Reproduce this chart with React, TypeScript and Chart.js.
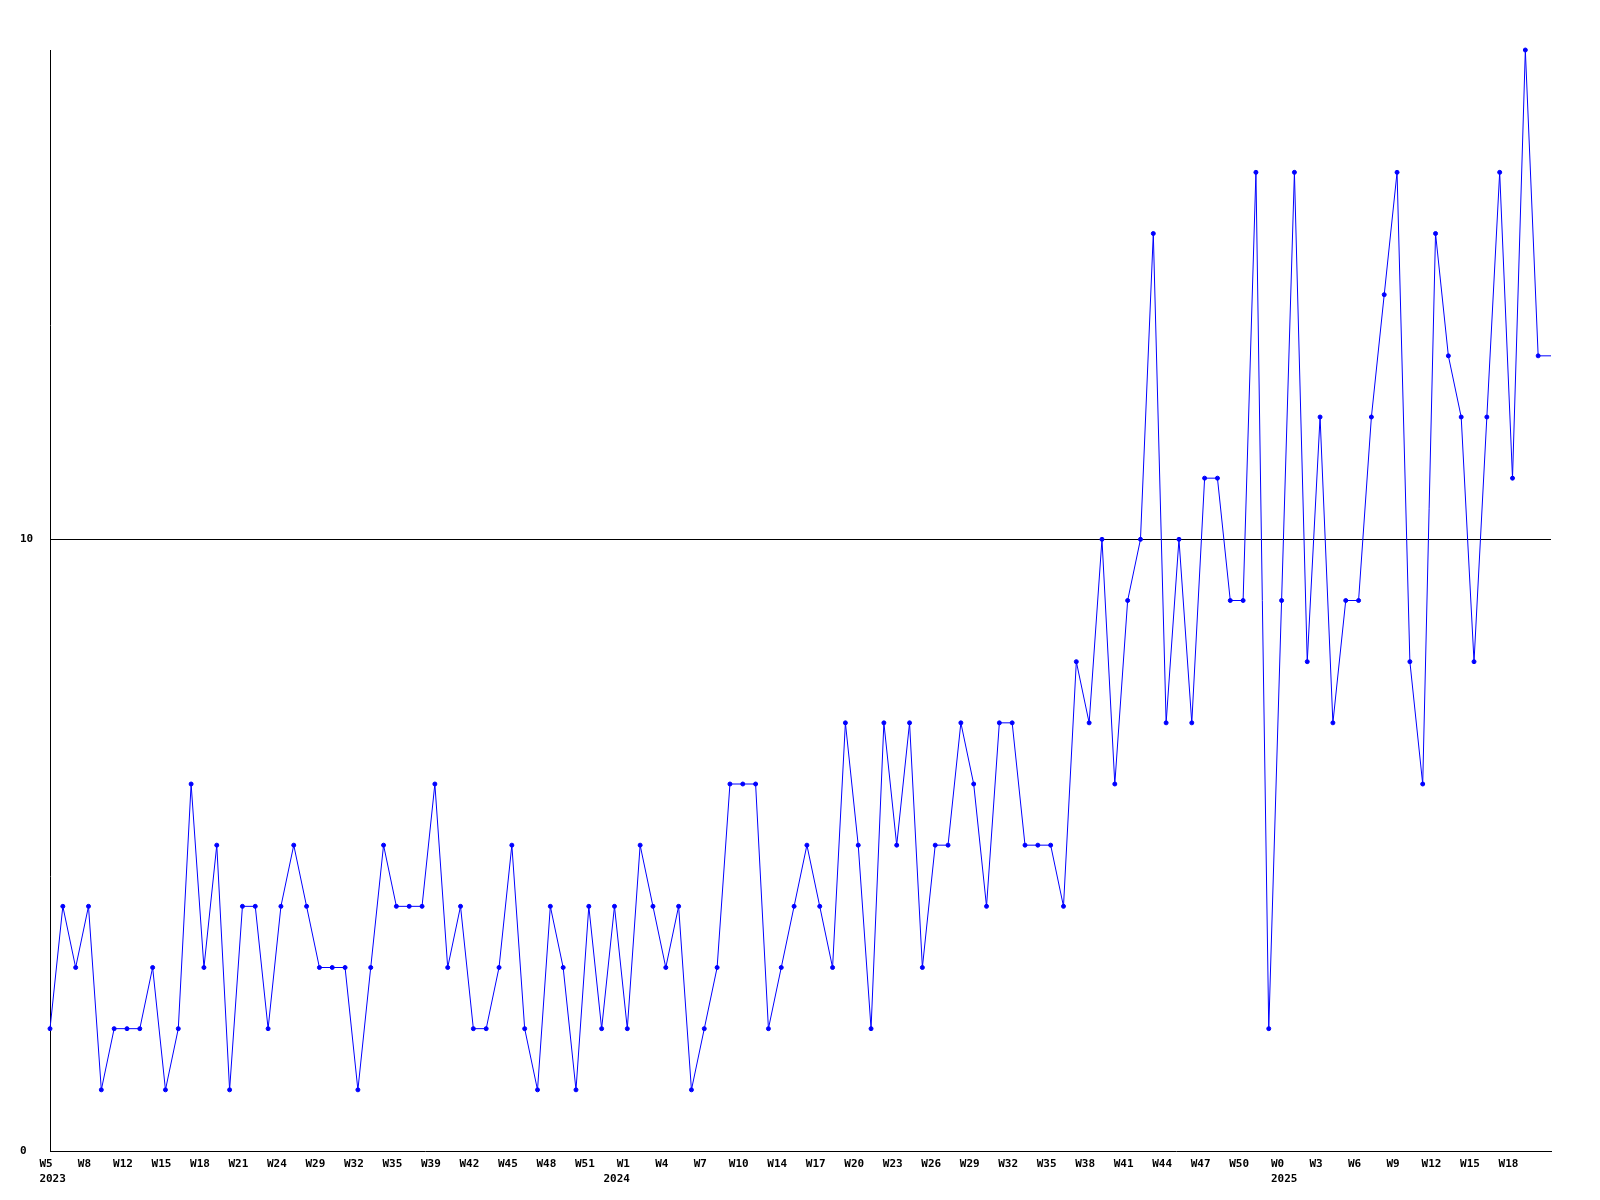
import React, { useEffect, useRef } from "react";
import { Chart, registerables } from "chart.js";

Chart.register(...registerables);

// Category labels (week numbers) per year
const weeks2023 = [
  "W5", "W6", "W7", "W8", "W9", "W10",
  "W12", "W13", "W14", "W15", "W16", "W17", "W18", "W19", "W20", "W21", "W22", "W23",
  "W24", "W26", "W28",
  "W29", "W30", "W31", "W32", "W33", "W34", "W35", "W36", "W38",
  "W39", "W40", "W41", "W42", "W43", "W44", "W45", "W46", "W47", "W48", "W49", "W50", "W51", "W52",
  "W53",
];
const weeks2024 = [
  "W1", "W2", "W3", "W4", "W5", "W6", "W7", "W8", "W9", "W10", "W11", "W12",
  "W14", "W15", "W16", "W17", "W18", "W19", "W20", "W21", "W22", "W23", "W24", "W25", "W26",
  "W27", "W28", "W29", "W30", "W31", "W32", "W33", "W34", "W35", "W36", "W37", "W38", "W39",
  "W40", "W41", "W42", "W43", "W44", "W45", "W46", "W47", "W48", "W49", "W50", "W51", "W52",
];
const weeks2025 = [
  "W0", "W1", "W2", "W3", "W4", "W5", "W6", "W7", "W8", "W9", "W10",
  "W11", "W12", "W13", "W14", "W15", "W16", "W17", "W18", "W19", "W20", "W21",
];

// Series values per year
const values2023 = [
  2, 4, 3, 4, 1, 2, 2, 2, 3, 1,
  2, 6, 3, 5, 1, 4, 4, 2, 4, 5,
  4, 3, 3, 3, 1, 3, 5, 4, 4, 4,
  6, 3, 4, 2, 2, 3, 5, 2, 1, 4,
  3, 1, 4, 2, 4,
];
const values2024 = [
  2, 5, 4, 3, 4, 1, 2, 3, 6, 6,
  6, 2, 3, 4, 5, 4, 3, 7, 5, 2,
  7, 5, 7, 3, 5, 5, 7, 6, 4, 7,
  7, 5, 5, 5, 4, 8, 7, 10, 6, 9,
  10, 15, 7, 10, 7, 11, 11, 9, 9, 16,
  2,
];
const values2025 = [
  9, 16, 8, 12, 7, 9, 9, 12, 14, 16,
  8, 6, 15, 13, 12, 8, 12, 16, 11, 18,
  13, 13,
];

// Year tick labels (second line), with spacing to mimic their alignment
const years = ["  2023", "2024  ", "  2025"];
const yTicks = [0, 10];
const yMax = 18;

const labels = [...weeks2023, ...weeks2024, ...weeks2025];
const values = [...values2023, ...values2024, ...values2025];
const yearStarts: Record<number, string> = {
  0: years[0],
  [weeks2023.length]: years[1],
  [weeks2023.length + weeks2024.length]: years[2],
};

const FONT = { family: "'DejaVu Sans Mono', 'Liberation Mono', monospace", size: 11, weight: "bold" as const, lineHeight: 1.4 };

export default function App() {
  const ref = useRef<HTMLCanvasElement | null>(null);

  useEffect(() => {
    if (!ref.current) return;
    const last = labels.length - 1;
    const chart = new Chart(ref.current, {
      type: "line",
      data: {
        labels,
        datasets: [
          {
            data: values,
            borderColor: "#0000ff",
            backgroundColor: "#0000ff",
            borderWidth: 1,
            tension: 0,
            pointRadius: (c: any) => (c.dataIndex === last ? 0 : 2),
            pointBorderWidth: 1,
            pointBorderColor: "#0000ff",
            pointBackgroundColor: "#0000ff",
            pointStyle: "circle",
            clip: 6,
          } as any,
        ],
      },
      options: {
        responsive: false,
        animation: false,
        events: [],
        layout: { padding: { left: 12, top: 42, right: 41, bottom: 0 } },
        plugins: { legend: { display: false }, tooltip: { enabled: false }, title: { display: false } },
        scales: {
          x: {
            type: "category",
            offset: false,
            grid: { display: false, drawTicks: false },
            border: { display: true, color: "#000", width: 1 },
            afterFit: (s: any) => {
              s.height = 41;
            },
            ticks: {
              autoSkip: false,
              maxRotation: 0,
              minRotation: 0,
              padding: 5,
              labelOffset: -4,
              color: "#000",
              font: FONT,
              callback: (_v: any, index: number) => {
                if (index % 3 !== 0 || index >= last) return "";
                const y = yearStarts[index];
                return y ? [labels[index], y] : labels[index];
              },
            },
          },
          y: {
            min: 0,
            max: yMax,
            grid: {
              drawTicks: false,
              color: (c: any) => (c.tick && c.tick.value === 10 ? "#000" : "rgba(0,0,0,0)"),
              lineWidth: 1,
            },
            border: { display: true, color: "#000", width: 1 },
            afterBuildTicks: (s: any) => {
              s.ticks = yTicks.map((v) => ({ value: v }));
            },
            afterFit: (s: any) => {
              s.width = 30;
            },
            ticks: {
              crossAlign: "far",
              color: "#000",
              font: FONT,
              callback: (v: any) => String(v),
            },
          },
        },
      },
    });
    return () => chart.destroy();
  }, []);

  return (
    <div style={{ width: 1584, height: 1184, background: "#fff" }}>
      <canvas ref={ref} width={1584} height={1184} style={{ display: "block" }} />
    </div>
  );
}
